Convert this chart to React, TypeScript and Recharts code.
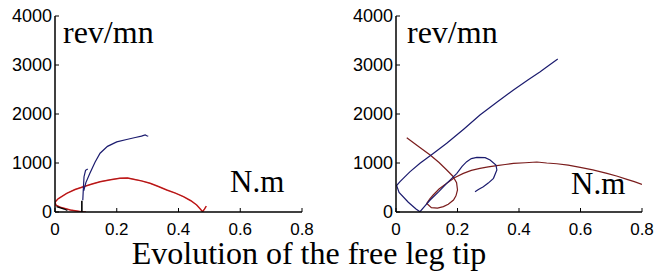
import { ComposedChart, Line, XAxis, YAxis } from "recharts";

// torque (N.m) vs speed (rev/mn) trajectories
interface Pt {
  x: number;
  y: number;
}

const xTicks = [0, 0.2, 0.4, 0.6, 0.8];
const yTicks = [0, 1000, 2000, 3000, 4000];

const leftBlueHook: Pt[] = [
  { x: 0.09, y: 240 }, { x: 0.092, y: 500 }, { x: 0.094, y: 720 },
  { x: 0.099, y: 850 }, { x: 0.106, y: 880 },
];
const leftBlue: Pt[] = [
  { x: 0.093, y: 430 }, { x: 0.1, y: 600 }, { x: 0.113, y: 790 }, { x: 0.13, y: 1020 },
  { x: 0.146, y: 1200 }, { x: 0.17, y: 1340 }, { x: 0.2, y: 1430 }, { x: 0.232, y: 1480 },
  { x: 0.26, y: 1520 }, { x: 0.28, y: 1550 }, { x: 0.292, y: 1575 }, { x: 0.297, y: 1555 },
  { x: 0.302, y: 1545 },
];
const leftBlackBar: Pt[] = [{ x: 0.087, y: 0 }, { x: 0.087, y: 230 }];
const leftBlackBits: Pt[] = [
  { x: 0.005, y: 110 }, { x: 0.015, y: 90 }, { x: 0.03, y: 60 }, { x: 0.04, y: 30 },
];
const leftRed: Pt[] = [
  { x: 0.1, y: 0 }, { x: 0.085, y: 5 }, { x: 0.05, y: 40 }, { x: 0.02, y: 90 },
  { x: 0.003, y: 140 }, { x: 0, y: 200 }, { x: 0.01, y: 270 }, { x: 0.038, y: 381 },
  { x: 0.065, y: 460 }, { x: 0.092, y: 517 }, { x: 0.12, y: 570 }, { x: 0.146, y: 619 },
  { x: 0.18, y: 660 }, { x: 0.21, y: 690 }, { x: 0.235, y: 695 }, { x: 0.254, y: 670 },
  { x: 0.28, y: 635 }, { x: 0.308, y: 585 }, { x: 0.335, y: 520 }, { x: 0.362, y: 449 },
  { x: 0.39, y: 385 }, { x: 0.416, y: 313 }, { x: 0.44, y: 230 }, { x: 0.459, y: 143 },
  { x: 0.472, y: 50 }, { x: 0.478, y: 5 }, { x: 0.484, y: 60 }, { x: 0.49, y: 120 },
];

const rightBlue: Pt[] = [
  { x: 0.526, y: 3122 }, { x: 0.49, y: 2960 }, { x: 0.469, y: 2864 }, { x: 0.43, y: 2700 },
  { x: 0.382, y: 2490 }, { x: 0.33, y: 2250 }, { x: 0.273, y: 1980 }, { x: 0.22, y: 1690 },
  { x: 0.165, y: 1402 }, { x: 0.12, y: 1190 }, { x: 0.078, y: 993 }, { x: 0.045, y: 820 },
  { x: 0.013, y: 619 }, { x: 0.002, y: 540 }, { x: 0.01, y: 400 }, { x: 0.04, y: 200 },
  { x: 0.065, y: 60 }, { x: 0.078, y: 5 }, { x: 0.095, y: 130 }, { x: 0.111, y: 245 },
  { x: 0.14, y: 420 }, { x: 0.165, y: 585 }, { x: 0.198, y: 789 }, { x: 0.215, y: 930 },
  { x: 0.23, y: 1027 }, { x: 0.245, y: 1090 }, { x: 0.263, y: 1116 }, { x: 0.29, y: 1110 },
  { x: 0.306, y: 1061 }, { x: 0.325, y: 960 }, { x: 0.328, y: 857 }, { x: 0.317, y: 687 },
  { x: 0.3, y: 590 }, { x: 0.284, y: 517 }, { x: 0.268, y: 460 }, { x: 0.257, y: 415 },
];
const rightRed: Pt[] = [
  { x: 0.035, y: 1516 }, { x: 0.07, y: 1350 }, { x: 0.111, y: 1163 }, { x: 0.14, y: 1010 },
  { x: 0.165, y: 857 }, { x: 0.185, y: 730 }, { x: 0.197, y: 600 }, { x: 0.2, y: 449 },
  { x: 0.195, y: 330 }, { x: 0.187, y: 245 }, { x: 0.17, y: 160 }, { x: 0.154, y: 109 },
  { x: 0.135, y: 80 }, { x: 0.115, y: 90 }, { x: 0.1, y: 177 }, { x: 0.11, y: 270 },
  { x: 0.121, y: 347 }, { x: 0.14, y: 470 }, { x: 0.165, y: 585 }, { x: 0.19, y: 700 },
  { x: 0.219, y: 789 }, { x: 0.245, y: 850 }, { x: 0.273, y: 891 }, { x: 0.3, y: 920 },
  { x: 0.328, y: 945 }, { x: 0.355, y: 970 }, { x: 0.382, y: 993 }, { x: 0.42, y: 1005 },
  { x: 0.458, y: 1020 }, { x: 0.49, y: 1000 }, { x: 0.523, y: 985 }, { x: 0.56, y: 955 },
  { x: 0.599, y: 911 }, { x: 0.64, y: 860 }, { x: 0.686, y: 789 }, { x: 0.72, y: 730 },
  { x: 0.751, y: 667 }, { x: 0.775, y: 620 }, { x: 0.8, y: 565 },
];

const BLUE = "#1b1b6e";
const DARK_RED = "#7a1c1c";
const RED = "#e02222";
const TICK_FONT = "Liberation Sans, Arial, sans-serif";
const SERIF = "Liberation Serif, Times New Roman, serif";
const TICK_LEN = 4;
const X_MARGIN = 11;
const Y_MARGIN = 3;

// matlab-style ticks: short marks pointing into the box
function renderBottomTick(props: any) {
  const { x, y, payload } = props;
  const base = y - X_MARGIN;
  return (
    <g>
      <line x1={x} y1={base} x2={x} y2={base - TICK_LEN} stroke="#000" />
      <text x={x} y={y} dy="0.71em" textAnchor="middle" style={{ fontFamily: TICK_FONT, fontSize: 17 }} fill="#000">
        {payload.value}
      </text>
    </g>
  );
}

function renderLeftTick(props: any) {
  const { x, y, payload } = props;
  const base = x + Y_MARGIN;
  return (
    <g>
      <line x1={base} y1={y} x2={base + TICK_LEN} y2={y} stroke="#000" />
      <text x={x} y={y} dy="0.355em" textAnchor="end" style={{ fontFamily: TICK_FONT, fontSize: 18 }} fill="#000">
        {payload.value}
      </text>
    </g>
  );
}

function renderTopTick(props: any) {
  const { x, y } = props;
  return <line x1={x} y1={y} x2={x} y2={y + TICK_LEN} stroke="#000" />;
}

function renderRightTick(props: any) {
  const { x, y } = props;
  return <line x1={x} y1={y} x2={x - TICK_LEN} y2={y} stroke="#000" strokeWidth={1.5} />;
}

interface Series {
  data: Pt[];
  color: string;
  width?: number;
}

function Panel({ series, marginLeft, marginRight }: { series: Series[]; marginLeft: number; marginRight: number }) {
  return (
    <ComposedChart
      width={330}
      height={273}
      margin={{ top: 16, right: marginRight, left: marginLeft, bottom: 31 }}
    >
      <XAxis
        dataKey="x"
        type="number"
        domain={[0, 0.8]}
        ticks={xTicks}
        allowDataOverflow
        height={30}
        tickSize={0}
        tickMargin={X_MARGIN}
        axisLine={{ stroke: "#000", strokeWidth: 1.5 }}
        tick={renderBottomTick}
        interval={0}
      />
      <XAxis
        xAxisId="top"
        orientation="top"
        dataKey="x"
        type="number"
        domain={[0, 0.8]}
        ticks={xTicks}
        height={0}
        tickSize={0}
        tickMargin={0}
        axisLine={{ stroke: "#000" }}
        tick={renderTopTick}
        interval={0}
      />
      <YAxis
        type="number"
        domain={[0, 4000]}
        ticks={yTicks}
        allowDataOverflow
        width={50}
        tickSize={0}
        tickMargin={Y_MARGIN}
        axisLine={{ stroke: "#000", strokeWidth: 1.5 }}
        tick={renderLeftTick}
        interval={0}
      />
      <YAxis
        yAxisId="right"
        orientation="right"
        type="number"
        domain={[0, 4000]}
        ticks={yTicks}
        width={0}
        tickSize={0}
        tickMargin={0}
        axisLine={{ stroke: "#000", strokeWidth: 1.5 }}
        tick={renderRightTick}
        interval={0}
      />
      {series.map((s, i) => (
        <Line
          key={i}
          data={s.data}
          dataKey="y"
          type="linear"
          stroke={s.color}
          strokeWidth={s.width ?? 1.2}
          dot={false}
          activeDot={false}
          isAnimationActive={false}
        />
      ))}
    </ComposedChart>
  );
}

export default function App() {
  const leftSeries: Series[] = [
    { data: leftRed, color: RED, width: 1.5 },
    { data: leftRed, color: "#701010", width: 0.5 },
    { data: leftBlackBits, color: "#000" },
    { data: leftBlackBar, color: "#000", width: 1.6 },
    { data: leftBlueHook, color: BLUE },
    { data: leftBlue, color: BLUE },
  ];
  const rightSeries: Series[] = [
    { data: rightRed, color: DARK_RED },
    { data: rightBlue, color: BLUE },
  ];
  const serif = { fontFamily: SERIF };
  return (
    <div style={{ position: "absolute", left: 0, top: 0, width: 660, height: 273, background: "#fff" }}>
      <div style={{ position: "absolute", left: 0, top: 0 }}>
        <Panel series={leftSeries} marginLeft={5} marginRight={28} />
      </div>
      <div style={{ position: "absolute", left: 330, top: 0 }}>
        <Panel series={rightSeries} marginLeft={16} marginRight={18} />
      </div>
      <svg width={660} height={273} style={{ position: "absolute", left: 0, top: 0, pointerEvents: "none" }}>
        <text x={63} y={43} style={{ ...serif, fontSize: 32 }} fill="#000">rev/mn</text>
        <text x={230} y={192} style={{ ...serif, fontSize: 31 }} fill="#000">N.m</text>
        <text x={407} y={43} style={{ ...serif, fontSize: 32 }} fill="#000">rev/mn</text>
        <text x={571} y={194} style={{ ...serif, fontSize: 31 }} fill="#000">N.m</text>
        <text x={309} y={264} textAnchor="middle" style={{ ...serif, fontSize: 32 }} fill="#000">
          Evolution of the free leg tip
        </text>
      </svg>
    </div>
  );
}
